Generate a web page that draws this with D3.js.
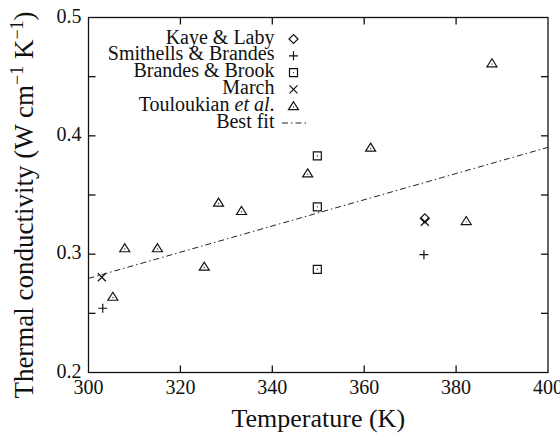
<!DOCTYPE html>
<html>
<head>
<meta charset="utf-8">
<script src="https://cdn.jsdelivr.net/npm/d3@7"></script>
</head>
<body style="margin:0; padding:0; background:#fff">
<svg id="chart" width="560" height="437" viewBox="0 0 560 437" style="display:block"></svg>
<script>
/* ── data ──────────────────────────────────────────────────────────────── */

const seriesNames = ["Kaye & Laby", "Smithells & Brandes", "Brandes & Brook", "March", "Touloukian et al.", "Best fit"];
const seriesShapes = ["diamond", "plus", "square", "times", "triangle", "line"];

const kayeLabyT = [373.2];
const kayeLabyK = [0.3303];

const smithellsT = [303.1, 373.0];
const smithellsK = [0.2543, 0.2996];

const brandesBrookT = [349.8, 349.8, 349.8];
const brandesBrookK = [0.383, 0.340, 0.2872];

const marchT = [302.9, 373.2];
const marchK = [0.2805, 0.3274];

const touloukianT = [305.3, 307.9, 315.0, 325.2, 328.3, 333.3, 347.7, 361.4, 382.2, 387.8];
const touloukianK = [0.264, 0.305, 0.305, 0.2894, 0.3435, 0.3365, 0.3683, 0.390, 0.328, 0.4613];

const fitT = [300, 400];
const fitK = [0.2795, 0.3903];

const xTicks = [300, 320, 340, 360, 380, 400];
const yTicks = [0.2, 0.3, 0.4, 0.5];
const yMinorTicks = [0.25, 0.35, 0.45];

/* ── layout ────────────────────────────────────────────────────────────── */

const FONT = '"Liberation Serif", "Times New Roman", serif';
const svg = d3.select("#chart");
const m = { left: 88.5, right: 548, top: 17.5, bottom: 372.5 };

const xS = d3.scaleLinear().domain([300, 400]).range([m.left, m.right]);
const yS = d3.scaleLinear().domain([0.2, 0.5]).range([m.bottom, m.top]);

function addText(parent, size) {
  return parent.append("text")
    .style("font-family", FONT)
    .style("font-size", size + "px")
    .attr("fill", "#111");
}

// marker shapes, centred on 0,0
function shapePath(kind) {
  switch (kind) {
    case "diamond": return "M0,-4.5L4.5,0L0,4.5L-4.5,0Z";
    case "plus": return "M-4.5,0H4.5M0,-4.5V4.5";
    case "square": return "M-4,-4H4V4H-4Z";
    case "times": return "M-4,-4L4,4M4,-4L-4,4";
    case "triangle": return "M0,-4.5L5,3.5H-5Z";
  }
  return "";
}
const dotted = new Set(["square", "triangle"]);

function drawMarker(g, kind, x, y) {
  g.append("path")
    .attr("transform", `translate(${x},${y})`)
    .attr("d", shapePath(kind))
    .attr("fill", "none")
    .attr("stroke", "#111")
    .attr("stroke-width", 1.2);
  if (dotted.has(kind)) {
    g.append("circle")
      .attr("cx", x).attr("cy", y + (kind === "triangle" ? 0.8 : 0))
      .attr("r", 0.7).attr("fill", "#333");
  }
}

/* ── best fit line ─────────────────────────────────────────────────────── */

const fitLine = d3.line().x((d) => xS(d[0])).y((d) => yS(d[1]));
svg.append("path")
  .datum(fitT.map((t, i) => [t, fitK[i]]))
  .attr("d", fitLine)
  .attr("fill", "none")
  .attr("stroke", "#222")
  .attr("stroke-width", 1)
  .attr("stroke-dasharray", "6,3,1.5,3");

/* ── points ────────────────────────────────────────────────────────────── */

const pts = svg.append("g");
const series = [
  ["diamond", kayeLabyT, kayeLabyK],
  ["plus", smithellsT, smithellsK],
  ["square", brandesBrookT, brandesBrookK],
  ["times", marchT, marchK],
  ["triangle", touloukianT, touloukianK],
];
series.forEach(([kind, ts, ks]) => {
  ts.forEach((t, i) => drawMarker(pts, kind, xS(t), yS(ks[i])));
});

/* ── frame and ticks (inward, all four sides) ──────────────────────────── */

const ax = svg.append("g").attr("stroke", "#111").attr("stroke-width", 1.3);
const TL = 7;
xTicks.slice(1, -1).forEach((t) => {
  ax.append("line").attr("x1", xS(t)).attr("x2", xS(t)).attr("y1", m.bottom).attr("y2", m.bottom - TL);
  ax.append("line").attr("x1", xS(t)).attr("x2", xS(t)).attr("y1", m.top).attr("y2", m.top + TL);
});
yTicks.slice(1, -1).concat(yMinorTicks).forEach((v) => {
  ax.append("line").attr("x1", m.left).attr("x2", m.left + TL).attr("y1", yS(v)).attr("y2", yS(v));
  ax.append("line").attr("x1", m.right).attr("x2", m.right - TL).attr("y1", yS(v)).attr("y2", yS(v));
});
ax.append("rect")
  .attr("x", m.left).attr("y", m.top)
  .attr("width", m.right - m.left).attr("height", m.bottom - m.top)
  .attr("fill", "none");

// tick labels
xTicks.forEach((t) => {
  addText(svg, 20)
    .attr("x", xS(t)).attr("y", 394)
    .attr("text-anchor", "middle")
    .text(t);
});
yTicks.forEach((v) => {
  addText(svg, 20)
    .attr("x", 81.5).attr("y", yS(v) + 5)
    .attr("text-anchor", "end")
    .text(d3.format(".1f")(v));
});

// axis titles
addText(svg, 26)
  .attr("x", (m.left + m.right) / 2).attr("y", 427)
  .attr("text-anchor", "middle")
  .text("Temperature (K)");

const yt = addText(svg, 27)
  .attr("transform", "rotate(-90)")
  .attr("x", -205).attr("y", 33)
  .attr("text-anchor", "middle");
yt.append("tspan").text("Thermal conductivity (W cm");
yt.append("tspan").attr("dy", -10).style("font-size", "18px").text("\u22121");
yt.append("tspan").attr("dy", 10).text(" K");
yt.append("tspan").attr("dy", -10).style("font-size", "18px").text("\u22121");
yt.append("tspan").attr("dy", 10).text(")");

/* ── legend ────────────────────────────────────────────────────────────── */

const lg = svg.append("g");
seriesNames.forEach((name, i) => {
  const by = 43.5 + i * 16.8;
  const t = addText(lg, 20)
    .attr("x", 274.5).attr("y", by).attr("text-anchor", "end");
  if (name.endsWith("et al.")) {
    t.append("tspan").text("Touloukian ");
    t.append("tspan").style("font-style", "italic").text("et al");
    t.append("tspan").text(".");
  } else {
    t.text(name);
  }
  const kind = seriesShapes[i];
  if (kind === "line") {
    lg.append("line")
      .attr("x1", 282).attr("x2", 308.5)
      .attr("y1", by - 4.5).attr("y2", by - 4.5)
      .attr("stroke", "#222").attr("stroke-width", 1)
      .attr("stroke-dasharray", "6,3,1.5,3");
  } else {
    drawMarker(lg, kind, 293.5, by - 4.5);
  }
});
</script>
</body>
</html>
